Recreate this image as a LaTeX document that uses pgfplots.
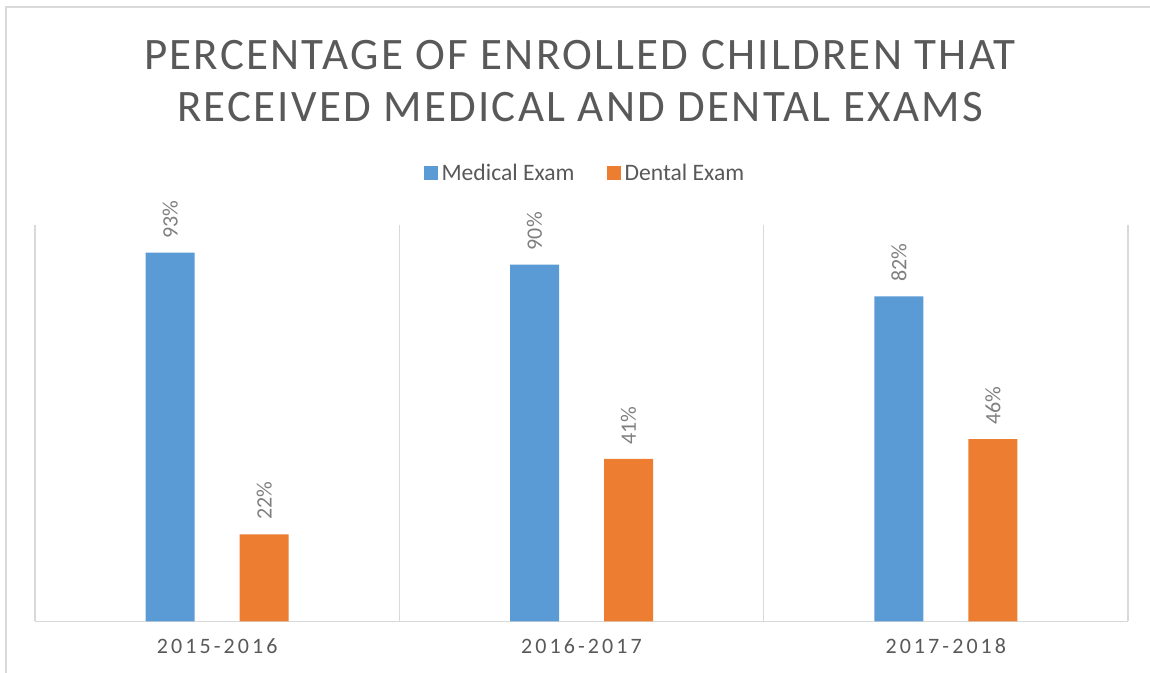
\documentclass[border=0pt]{standalone}
\usepackage{fontspec}
\setmainfont{Carlito}
\newfontfamily\titlefont[LetterSpace=5]{Carlito}
\newfontfamily\tickfont[LetterSpace=14]{Carlito}
\usepackage{pgfplots}
\pgfplotsset{compat=1.18}
\definecolor{medblue}{HTML}{5B9BD5}
\definecolor{dentorange}{HTML}{ED7D31}
\definecolor{gridgray}{HTML}{D9D9D9}
\definecolor{txtgray}{HTML}{595959}
\definecolor{lblgray}{HTML}{7F7F7F}
\begin{document}
\begin{tikzpicture}
\useasboundingbox (0pt,0pt) rectangle (575pt,336.5pt);
\draw[gridgray, line width=0.75pt] (3pt,0pt) -- (3pt,333pt) -- (575pt,333pt);
\node[anchor=base, text=txtgray, font=\titlefont\fontsize{22.5}{27}\selectfont] at (290pt,301.5pt) {PERCENTAGE OF ENROLLED CHILDREN THAT};
\node[anchor=base, text=txtgray, font=\titlefont\fontsize{22.5}{27}\selectfont] at (290pt,275.5pt) {RECEIVED MEDICAL AND DENTAL EXAMS};
\begin{axis}[
  at={(17.5pt,25.75pt)}, anchor=origin,
  scale only axis, width=546.5pt, height=198.25pt,
  xmin=0, xmax=3, ymin=0, ymax=100,
  /pgf/number format/assume math mode=true,
  xtick={0.5,1.5,2.5},
  xticklabels={2015-2016,2016-2017,2017-2018},
  xticklabel style={font=\tickfont\fontsize{11}{13}\selectfont, text=txtgray, anchor=north, yshift=-5pt},
  major tick length=0pt,
  ytick=\empty,
  axis x line*=bottom,
  axis y line=none,
  x axis line style={gridgray, line width=0.75pt, -},
  extra x ticks={0,1,2,3},
  extra x tick labels={},
  extra x tick style={grid=major, major grid style={gridgray, line width=0.75pt}},
  clip=false,
  bar width=24.5pt,
  nodes near coords={\pgfmathprintnumber{\pgfplotspointmeta}\%},
  every node near coord/.append style={anchor=west, font=\rmfamily\fontsize{11}{13}\selectfont, text=lblgray, inner xsep=7pt, inner ysep=0pt},
  legend style={at={(0.504,1.13)}, anchor=center, draw=none, fill=none, legend columns=2,
    font=\fontsize{11.8}{14}\selectfont, text=txtgray,
    /tikz/every even column/.append style={column sep=14pt}},
  legend image code/.code={\fill[#1] (2pt,-3.5pt) rectangle (9pt,3.5pt);},
]
\addplot[ybar, fill=medblue, draw=none, bar shift=-23.5pt,
  every node near coord/.append style={xshift=-23.5pt, rotate=90}] coordinates {(0.5,93) (1.5,90) (2.5,82)};
\addplot[ybar, fill=dentorange, draw=none, bar shift=23.5pt,
  every node near coord/.append style={xshift=23.5pt, rotate=90}] coordinates {(0.5,22) (1.5,41) (2.5,46)};
\legend{Medical Exam, Dental Exam}
\end{axis}
\end{tikzpicture}
\end{document}
